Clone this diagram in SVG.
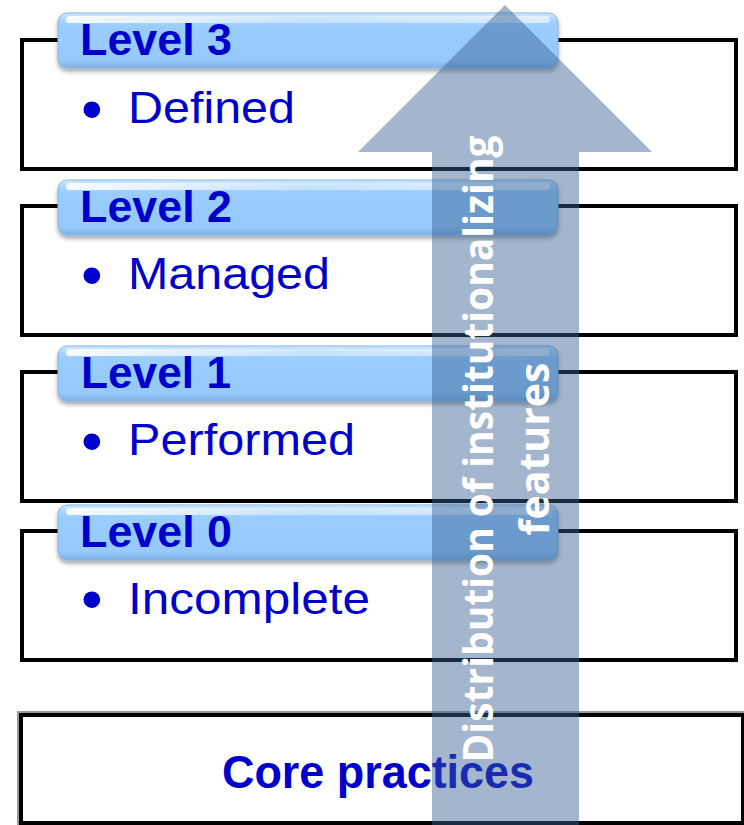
<svg xmlns="http://www.w3.org/2000/svg" width="744" height="825" viewBox="0 0 744 825">
  <defs>
    <linearGradient id="pillGrad" x1="0" y1="0" x2="0" y2="1">
      <stop offset="0" stop-color="#D2EAFF"/>
      <stop offset="0.12" stop-color="#A9D5FF"/>
      <stop offset="0.25" stop-color="#99CCFF"/>
      <stop offset="0.85" stop-color="#97C9FB"/>
      <stop offset="1" stop-color="#7DB0E4"/>
    </linearGradient>
    <linearGradient id="hiGrad" x1="0" y1="0" x2="1" y2="0">
      <stop offset="0" stop-color="#FFFFFF" stop-opacity="0.9"/>
      <stop offset="0.5" stop-color="#FFFFFF" stop-opacity="0.35"/>
      <stop offset="1" stop-color="#FFFFFF" stop-opacity="0.6"/>
    </linearGradient>
    <filter id="pillShadow" x="-5%" y="-20%" width="110%" height="160%">
      <feDropShadow dx="0" dy="3" stdDeviation="2" flood-color="#000000" flood-opacity="0.35"/>
    </filter>
    <style>
      .box { fill: #FFFFFF; stroke: #000000; stroke-width: 4; }
      .pill { fill: url(#pillGrad); stroke: #86B4E2; stroke-width: 1; }
      .hi { fill: url(#hiGrad); }
      .lvl { font-family: "Liberation Sans", Arial, sans-serif; font-weight: bold; font-size: 45px; fill: #0000CC; }
      .item { font-family: "Liberation Sans", Arial, sans-serif; font-size: 44px; fill: #0000CC; }
      .bul { font-family: "Liberation Sans", Arial, sans-serif; font-size: 62px; fill: #0000CC; }
      .core { font-family: "Liberation Sans", Arial, sans-serif; font-weight: bold; font-size: 46px; fill: #0000CC; }
      .arrowTxt { font-family: "Open Sans", "DejaVu Sans", sans-serif; font-weight: bold; font-size: 41px; fill: #FFFFFF; }
    </style>
  </defs>
  <rect x="0" y="0" width="744" height="825" fill="#FFFFFF"/>

  <g id="core">
    <rect x="18" y="712" width="726" height="113" fill="none" stroke="#9A9A9A" stroke-width="2"/>
    <rect x="21" y="715" width="722" height="108" class="box"/>
    <text x="378" y="788" class="core" text-anchor="middle" textLength="312" lengthAdjust="spacingAndGlyphs">Core practices</text>
  </g>

  <g id="level0">
    <rect x="22" y="531" width="714" height="129" class="box"/>
    <rect x="58" y="505" width="500" height="55" rx="9" class="pill" filter="url(#pillShadow)"/>
    <rect x="66" y="508" width="484" height="7" rx="3.5" class="hi"/>
    <text x="80" y="547" class="lvl" textLength="152" lengthAdjust="spacingAndGlyphs">Level 0</text>
    <text x="81" y="620" class="bul">•</text>
    <text x="128" y="614" class="item" textLength="242" lengthAdjust="spacingAndGlyphs">Incomplete</text>
  </g>

  <g id="level1">
    <rect x="22" y="372" width="714" height="129" class="box"/>
    <rect x="58" y="346" width="500" height="55" rx="9" class="pill" filter="url(#pillShadow)"/>
    <rect x="66" y="349" width="484" height="7" rx="3.5" class="hi"/>
    <text x="81" y="388" class="lvl" textLength="150" lengthAdjust="spacingAndGlyphs">Level 1</text>
    <text x="81" y="462" class="bul">•</text>
    <text x="128" y="455" class="item" textLength="227" lengthAdjust="spacingAndGlyphs">Performed</text>
  </g>

  <g id="level2">
    <rect x="22" y="206" width="714" height="129" class="box"/>
    <rect x="58" y="180" width="500" height="55" rx="9" class="pill" filter="url(#pillShadow)"/>
    <rect x="66" y="183" width="484" height="7" rx="3.5" class="hi"/>
    <text x="80" y="222" class="lvl" textLength="152" lengthAdjust="spacingAndGlyphs">Level 2</text>
    <text x="81" y="296" class="bul">•</text>
    <text x="128" y="289" class="item" textLength="202" lengthAdjust="spacingAndGlyphs">Managed</text>
  </g>

  <g id="level3">
    <rect x="22" y="40" width="714" height="129" class="box"/>
    <rect x="58" y="13" width="500" height="55" rx="9" class="pill" filter="url(#pillShadow)"/>
    <rect x="66" y="16" width="484" height="7" rx="3.5" class="hi"/>
    <text x="80" y="55" class="lvl" textLength="152" lengthAdjust="spacingAndGlyphs">Level 3</text>
    <text x="81" y="130" class="bul">•</text>
    <text x="128" y="123" class="item" textLength="167" lengthAdjust="spacingAndGlyphs">Defined</text>
  </g>

  <g id="arrow">
    <polygon points="432,825 432,152 358,152 505,5 652,152 579,152 579,825" fill="#375F91" fill-opacity="0.46"/>
    <g transform="translate(493,449) rotate(-90)">
      <text x="0" y="0" class="arrowTxt" text-anchor="middle" textLength="627" lengthAdjust="spacingAndGlyphs">Distribution of institutionalizing</text>
      <text x="0" y="56" class="arrowTxt" text-anchor="middle">features</text>
    </g>
  </g>
</svg>
